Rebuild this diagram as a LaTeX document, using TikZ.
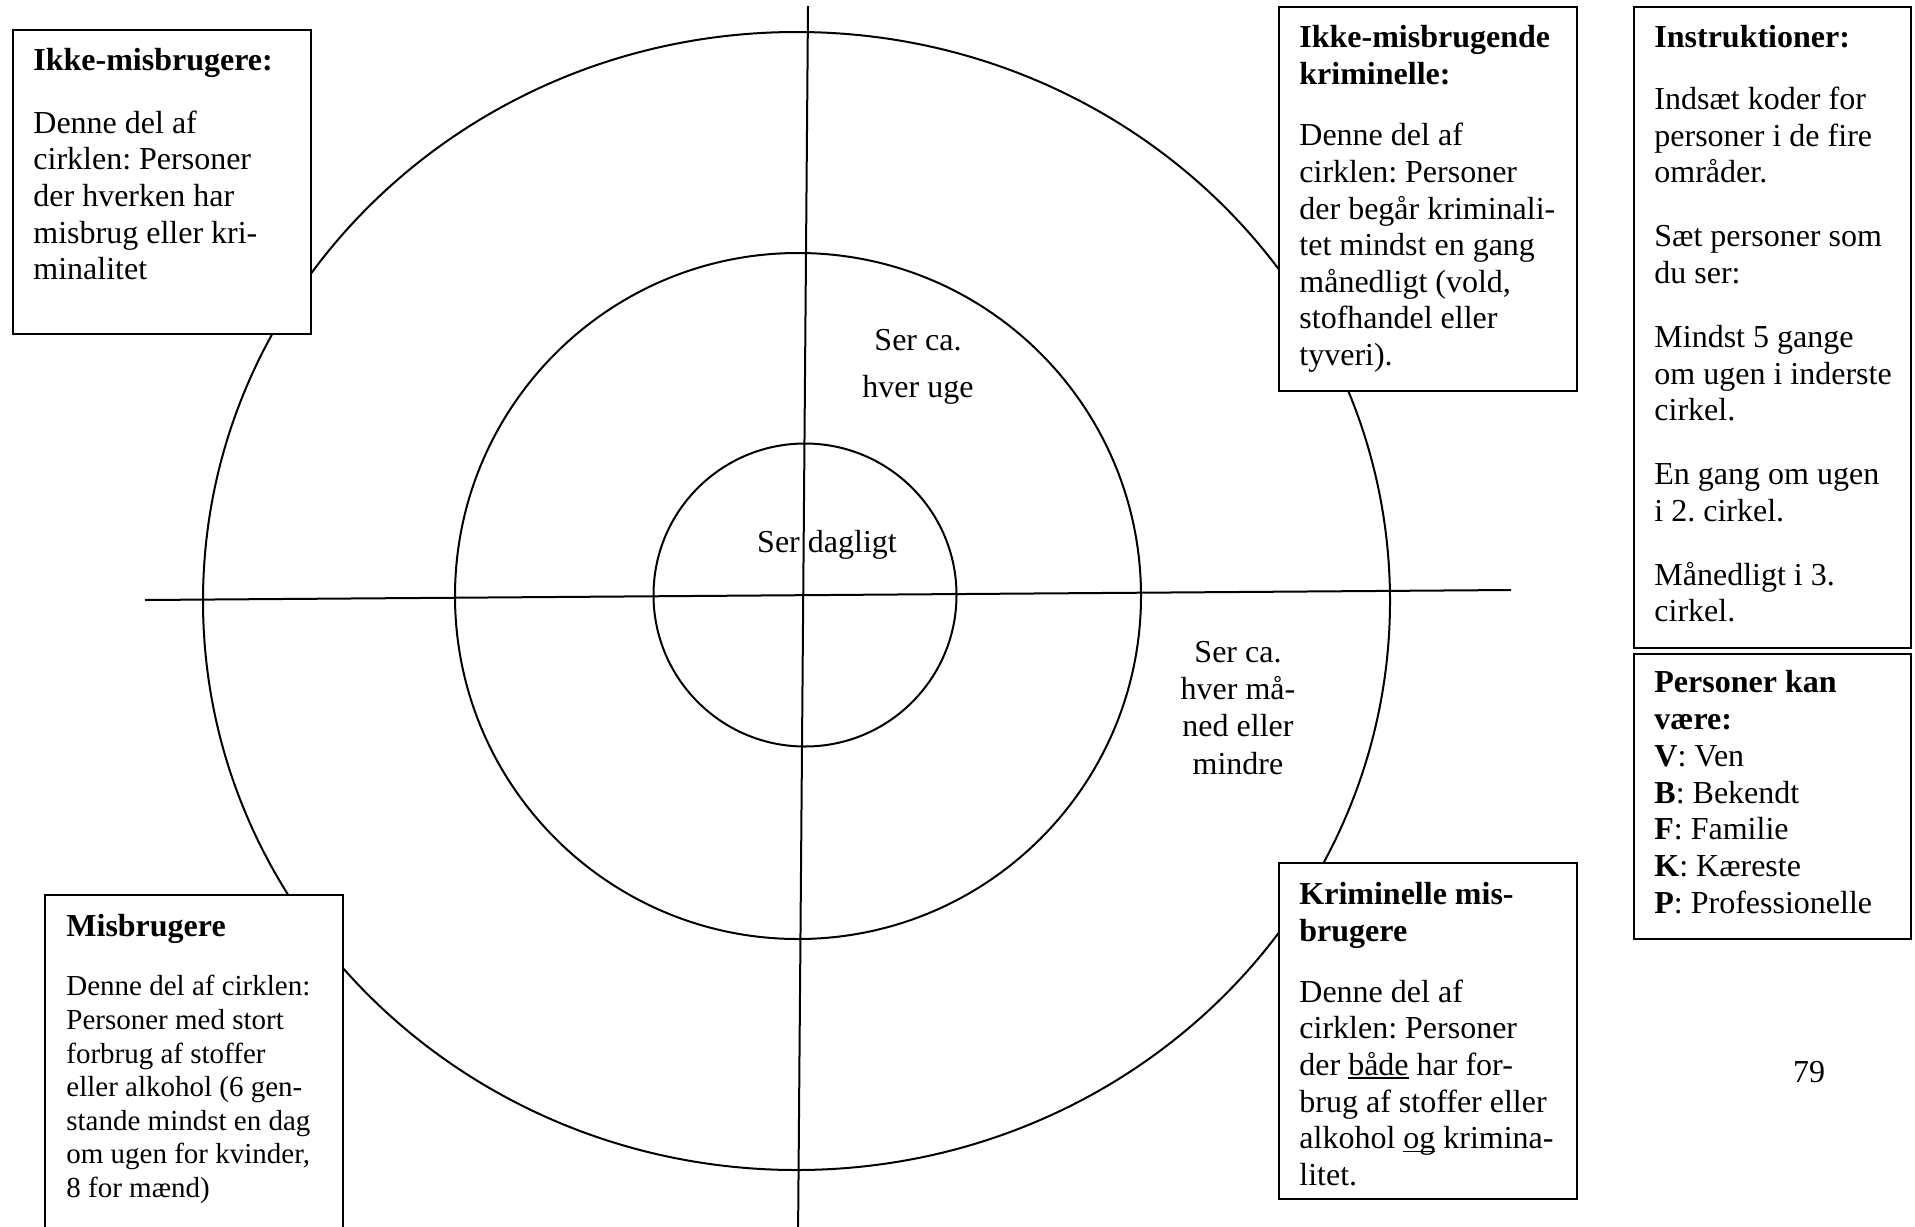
\documentclass[tikz,border=0pt]{standalone}
\usepackage{fontspec}
\setmainfont{Liberation Serif}
\frenchspacing
\newcommand\myul[1]{\setbox0\hbox{#1}\rlap{\rule[-1.7pt]{\wd0}{0.7pt}}\box0\relax}
\begin{document}
\begin{tikzpicture}[x=0.5pt,y=-0.5pt,
  ring/.style={draw,line width=1pt},
  axis/.style={draw,line width=1pt},
  infobox/.style={draw,fill=white,line width=1pt,anchor=north west,inner sep=0pt},
  body/.style={anchor=north west,inner sep=0pt,align=left,font=\fontsize{16}{18.3}\selectfont},
  smallbody/.style={anchor=north west,inner sep=0pt,align=left,font=\fontsize{14.5}{16.8}\selectfont},
  lbl/.style={anchor=north,inner sep=0pt,align=center,font=\fontsize{16}{18.6}\selectfont}]
\useasboundingbox (0,0) rectangle (1915,1226);
\clip (0,0) rectangle (1915,1226);
\fill[white] (0,0) rectangle (1915,1226);
% rings
\draw[ring] (796.5,601) ellipse [x radius=296.75pt, y radius=284.5pt];
\draw[ring] (798,596) circle [radius=171.5pt];
\draw[ring] (805,595) circle [radius=75.75pt];
% axes
\coordinate (hl) at (145,600);
\coordinate (hr) at (1511,590);
\coordinate (vt) at (808,6);
\coordinate (vb) at (798,1240);
\draw[axis] (hl) -- (hr);
\draw[axis] (vt) -- (vb);
% ring labels
\node[lbl,font=\fontsize{16}{23.5}\selectfont] (week) at (918,329) {Ser ca.\\hver uge};
\node[anchor=base,inner sep=0pt,font=\fontsize{16}{18.3}\selectfont] (daily) at (827,552) {Ser dagligt};
\node[lbl] (month) at (1238,641) {Ser ca.\\hver må-\\ned eller\\mindre};
% boxes
\node[infobox,minimum width=149pt,minimum height=152pt] (b1) at (12,29) {};
\node[body] (t1) at (33,48) {\textbf{Ikke-misbrugere:}\\[13pt]Denne del af\\cirklen: Personer\\der hverken har\\misbrug eller kri-\\minalitet};
\node[infobox,minimum width=149pt,minimum height=192pt] (b2) at (1278,6) {};
\node[body] (t2) at (1299,25) {\textbf{Ikke-misbrugende}\\\textbf{kriminelle:}\\[12.5pt]Denne del af\\cirklen: Personer\\der begår kriminali-\\tet mindst en gang\\månedligt (vold,\\stofhandel eller\\tyveri).};
\node[infobox,minimum width=138.5pt,minimum height=320.5pt] (b3) at (1633,6) {};
\node[body] (t3) at (1654,25) {\textbf{Instruktioner:}\\[12.7pt]Indsæt koder for\\personer i de fire\\områder.\\[13.7pt]Sæt personer som\\du ser:\\[13.7pt]Mindst 5 gange\\om ugen i inderste\\cirkel.\\[13.7pt]En gang om ugen\\i 2. cirkel.\\[13.7pt]Månedligt i 3.\\cirkel.};
\node[infobox,minimum width=138.5pt,minimum height=142.5pt] (b4) at (1633,653) {};
\node[body,font=\fontsize{16}{18.4}\selectfont] (t4) at (1654,670) {\textbf{Personer kan}\\\textbf{være:}\\\textbf{V}: Ven\\\textbf{B}: Bekendt\\\textbf{F}: Familie\\\textbf{K}: Kæreste\\\textbf{P}: Professionelle};
\node[infobox,minimum width=149pt,minimum height=173pt] (b5) at (44,894) {};
\node[body] (t5a) at (66,914) {\textbf{Misbrugere}};
\node[smallbody] (t5b) at (66,975) {Denne del af cirklen:\\Personer med stort\\forbrug af stoffer\\eller alkohol (6 gen-\\stande mindst en dag\\om ugen for kvinder,\\8 for mænd)};
\node[infobox,minimum width=149pt,minimum height=168pt] (b6) at (1278,862) {};
\node[body] (t6) at (1299,882) {\textbf{Kriminelle mis-}\\\textbf{brugere}\\[12.2pt]Denne del af\\cirklen: Personer\\der \myul{både} har for-\\brug af stoffer eller\\alkohol \myul{og} krimina-\\litet.};
% page number
\node[anchor=base,inner sep=0pt,font=\fontsize{16}{18.3}\selectfont] (pg) at (1809,1082) {79};
\end{tikzpicture}
\end{document}
